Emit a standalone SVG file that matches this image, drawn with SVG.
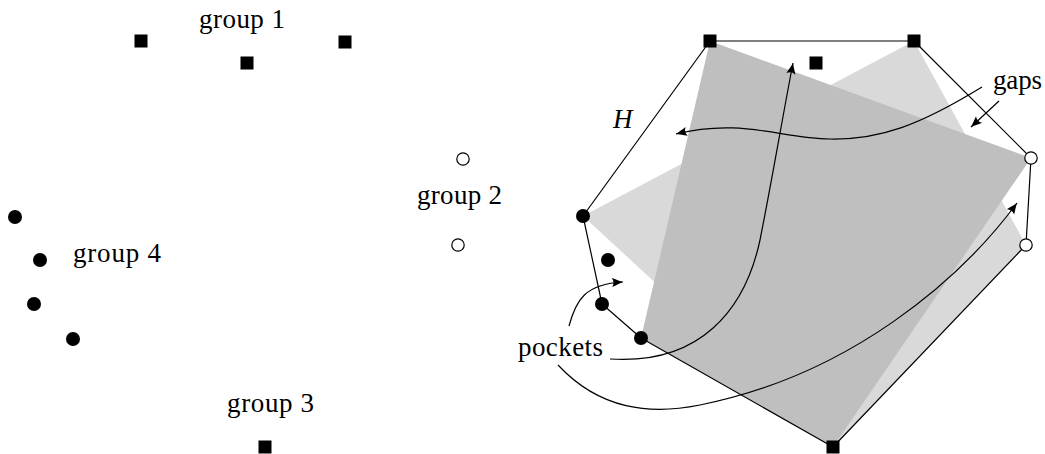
<svg xmlns="http://www.w3.org/2000/svg" width="1045" height="454" viewBox="0 0 1045 454">
<style>
.sq{fill:#000}
.dot{fill:#000}
.ring{fill:#fff;stroke:#000;stroke-width:1.2}
.lbl{font-family:"Liberation Serif","DejaVu Serif",serif;font-size:27px;fill:#000}
.it{font-style:italic}
.hull{fill:none;stroke:#000;stroke-width:1.2;stroke-linejoin:round}
.arr{fill:none;stroke:#000;stroke-width:1.2;marker-end:url(#ah)}
</style>
<defs>
<marker id="ah" markerUnits="userSpaceOnUse" markerWidth="14" markerHeight="12" viewBox="-12 -6 14 12" refX="0" refY="0" orient="auto">
<path d="M0,0 C-3,-1 -7,-3 -11,-4.5 C-9,-1.5 -9,1.5 -11,4.5 C-7,3 -3,1 0,0 Z" fill="#000"/>
</marker>
<rect id="s" x="-6.5" y="-6.5" width="13" height="13" class="sq"/>
<circle id="f" r="7" class="dot"/>
<circle id="o" r="6.2" class="ring"/>
</defs>

<!-- left: input groups -->
<g id="group1">
<use href="#s" x="141" y="41"/>
<use href="#s" x="247" y="63"/>
<use href="#s" x="345" y="42"/>
<text class="lbl" x="199" y="28" textLength="86" lengthAdjust="spacing">group 1</text>
</g>
<g id="group2">
<use href="#o" x="463" y="159"/>
<use href="#o" x="458" y="245"/>
<text class="lbl" x="417" y="204" textLength="85" lengthAdjust="spacing">group 2</text>
</g>
<g id="group3">
<use href="#s" x="265" y="447"/>
<text class="lbl" x="227" y="412" textLength="87" lengthAdjust="spacing">group 3</text>
</g>
<g id="group4">
<use href="#f" x="15" y="217"/>
<use href="#f" x="40" y="260"/>
<use href="#f" x="34" y="304"/>
<use href="#f" x="73" y="339"/>
<text class="lbl" x="73" y="262" textLength="88" lengthAdjust="spacing">group 4</text>
</g>

<!-- right: hull and rectangles -->
<g id="rects">
<polygon points="583,216 914,41 1026,245 833,447" fill="#d9d9d9"/>
<polygon points="710,41 1031,158 833,447 641,338" fill="#bfbfbf"/>
</g>
<g id="hull">
<polygon class="hull" points="710,41 914,41 1031,158 1026,245 833,447 641,338 602,304 583,216"/>
<text class="lbl it" x="613" y="128">H</text>
</g>
<g id="points">
<use href="#s" x="710" y="41"/>
<use href="#s" x="816" y="63"/>
<use href="#s" x="914" y="41"/>
<use href="#o" x="1031" y="158"/>
<use href="#o" x="1026" y="245"/>
<use href="#s" x="833" y="447"/>
<use href="#f" x="583" y="216"/>
<use href="#f" x="608" y="260"/>
<use href="#f" x="602" y="304"/>
<use href="#f" x="641" y="338"/>
</g>
<g id="labels">
<text class="lbl" x="993" y="89" textLength="49" lengthAdjust="spacing">gaps</text>
<text class="lbl" x="518" y="356" textLength="85" lengthAdjust="spacing">pockets</text>
</g>

<g id="connectors">
<path class="arr" d="M982,87 C920,125 880,140 830,139 C780,138 740,118 676,134"/>
<path class="arr" d="M999,101 L971,127"/>
<path class="arr" d="M610,359 C700,365 745,310 760,240 C772,180 782,120 793,63"/>
<path class="arr" d="M558,365 C600,410 650,415 700,405 C850,375 960,280 1017,203"/>
<path class="arr" d="M569,326 C576,300 585,284 623,282"/>
</g>
</svg>
